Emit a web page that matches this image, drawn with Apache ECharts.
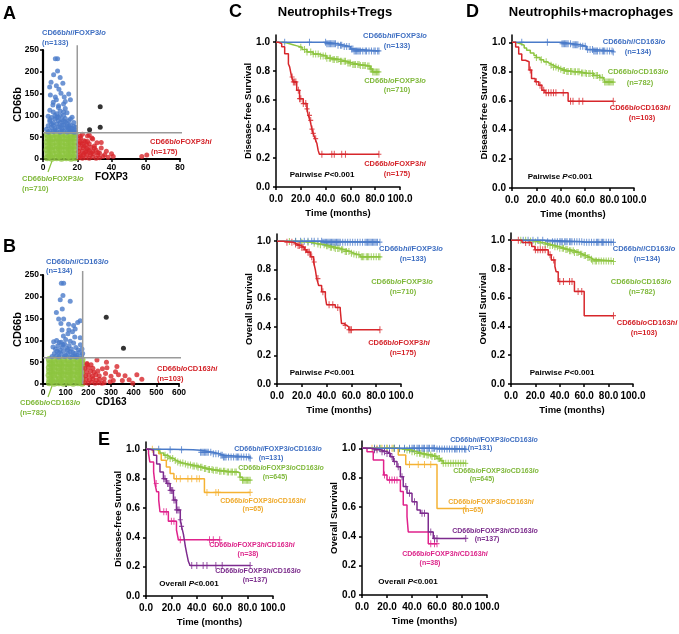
<!DOCTYPE html>
<html>
<head>
<meta charset="utf-8">
<script src="https://cdn.jsdelivr.net/npm/echarts@6/dist/echarts.min.js"></script>
<style>
  html, body { margin: 0; padding: 0; background: #fff; }
  #main { width: 679px; height: 634px; }
</style>
</head>
<body>
<div id="main"></div>
<script>
// ---- data ----
// panel A: CD66b vs FOXP3
const aGreen = [[2.5,3],[5.2,2],[8,3],[10.8,2],[13.6,3],[16.4,2],[18.8,3],
  [2.8,12],[5.5,11],[8.3,12],[11,11],[13.8,12],[16.6,12],[18.6,11],
  [2.4,21],[5.1,20],[7.9,21],[10.7,21],[13.5,20],[16.3,21],[18.9,21],
  [2.7,30],[5.4,29],[8.2,30],[11,30],[13.7,29],[16.5,30],[18.7,30],
  [2.5,39],[5.3,38],[8.1,39],[10.9,39],[13.6,38],[16.4,39],[18.8,39],
  [2.8,48],[5.5,47],[8.3,48],[11.1,48],[13.8,47],[16.6,48],[18.6,48],
  [2.6,56],[5.2,56],[8,57],[10.8,56],[13.6,56],[16.4,57],[18.8,56],
  [4,7],[9.5,7],[15,7],[4,25],[9.5,25],[15,25],[4,43],[9.5,43],[15,43]];
const aBlue = [[7.2,230],[8.5,230],[8.5,202],[6.2,193],[10,187],[4.7,176],[3.9,165],[7.8,168],[11.6,174],
  [9.3,160],[10.5,151],[15,149],[4.3,147],[7.2,142],[12.4,142],[7.8,136],[5.8,124],[9.1,122],[12,126],
  [13,132],[16,136],[4,112],[6,108],[8,104],[10,110],[12,100],[14,106],[3,98],[5,95],[7,92],[9,96],
  [11,90],[13,93],[15,88],[17,96],[4,86],[6,83],[8,80],[10,84],[12,78],[14,82],[16,78],[18,84],[3,76],
  [5,72],[7,70],[9,74],[11,68],[13,71],[15,67],[17,70],[19,66],[4,65],[6,63],[8,64],[10,62],[12,64],
  [14,62],[16,63],[18,62],[2,68],[5,80],[9,88],[11,78],[13,85],[7,100],[15,76],[19,73],[16,92],[13,116],
  [9,118],[6,130],[3,62],[7,66],[11,64],[15,71],[17,64],[19,62],[4,90],[6,77],[10,73],[12,88],[14,74],
  [8,95],[10,100],[12,108],[18,75],[16,70]];
const aRed = [[21,3],[23,2],[25,3],[27,2],[29,4],[31,2],[33,3],[21.5,10],[23.5,9],[25.5,11],[27.5,9],
  [29.5,12],[32,9],[21,17],[23,18],[25,16],[27,19],[29,17],[31,20],[21.5,25],[23.5,26],[25.5,24],[28,27],
  [30,25],[21,33],[23,34],[25.5,32],[27,35],[21.5,41],[24,42],[26,40],[22,48],[21.7,52],[26,53],[28.5,48],
  [24.7,40],[31.5,37],[34,25],[37,17.5],[40,12],[33,14],[35,6],[41,6],[57.7,6],[60.6,9],[30,30],[32,15],
  [36,10],[38,4],[34,38],[29,46],[27,55],[23,57],[22,6],[24,13],[26,21],[28,14],[24,30],[22,37]];
const aBlack = [[27.2,67],[33.4,73],[33.4,120]];
// panel B: CD66b vs CD163
const bGreen = [[28,3],[49,2],[70,3],[91,2],[112,3],[133,2],[154,3],[172,2],
  [30,11],[51,12],[72,11],[93,12],[114,11],[135,12],[156,11],[171,12],
  [27,20],[48,21],[69,20],[90,21],[111,20],[132,21],[153,20],[172,21],
  [29,29],[50,30],[71,29],[92,30],[113,29],[134,30],[155,29],[171,30],
  [28,38],[49,39],[70,38],[91,39],[112,38],[133,39],[154,38],[172,39],
  [30,47],[51,48],[72,47],[93,48],[114,47],[135,48],[156,47],[171,48],
  [28,56],[49,56],[70,57],[91,56],[112,56],[133,57],[154,56],[172,56],
  [40,7],[80,7],[120,7],[160,7],[40,25],[80,25],[120,25],[160,25],[40,43],[80,43],[120,43],[160,43]];
const bBlue = [[81,231],[91,231],[88,203],[76,193],[120,190],[59,164],[85,172],[69,149],[91,149],[79,139],
  [153,141],[164,145],[113,137],[135,134],[84,124],[114,124],[142,126],[47,97],[164,106],[44,85],[172,80],
  [50,70],[60,65],[70,72],[80,68],[90,75],[100,66],[110,70],[120,74],[130,64],[140,70],[150,66],[160,72],
  [170,64],[55,80],[65,88],[75,78],[85,85],[95,92],[105,82],[115,88],[125,80],[135,94],[145,84],[155,78],
  [165,90],[60,100],[80,96],[100,102],[120,98],[140,108],[90,110],[110,115],[130,120],[70,62],[120,62],
  [150,62],[40,63],[175,70],[95,63],[140,63],[62,75],[108,78],[132,72],[88,90],[72,95]];
const bRed = [[185,3],[200,2],[215,4],[230,2],[245,3],[260,2],[190,11],[205,10],[220,12],[235,9],[250,11],
  [188,19],[203,20],[218,18],[233,21],[248,19],[192,28],[210,29],[225,27],[242,30],[185,36],[200,38],
  [220,36],[195,45],[212,44],[238,55],[194,47],[282,37],[326,40],[276,24],[333,21],[362,19],[414,21],
  [436,11],[396,2],[296,5],[270,12],[300,18],[310,8],[350,8],[262,35],[280,50],[320,28],[380,10],[270,3]];
const bBlack = [[279,153],[355,82]];

// KM curves: T = months, S = survival, C = censored times
// C top: Neutrophils+Tregs, disease-free
const cDfsBlueT = [0, 41, 50, 55, 60, 63, 83];
const cDfsBlueS = [1, 0.99, 0.98, 0.97, 0.953, 0.94, 0.94];
const cDfsBlueC = [7, 27, 40, 41, 42, 43, 44, 45, 46, 47, 48, 50, 52, 53, 55, 57, 59, 61, 62, 63, 64, 65, 66, 67, 68, 70, 72, 73, 75, 77, 79, 80, 82, 83];
const cDfsGreenT = [0, 5, 9, 13, 17, 21, 25, 30, 35, 41, 46, 52, 57, 62, 68, 73, 76, 78, 83];
const cDfsGreenS = [1, 0.995, 0.985, 0.975, 0.965, 0.95, 0.933, 0.918, 0.905, 0.89, 0.88, 0.868, 0.857, 0.846, 0.84, 0.835, 0.815, 0.795, 0.795];
const cDfsGreenC = [20, 23, 25, 28, 30, 32, 34, 36, 38, 40, 41, 43, 44, 46, 47, 49, 50, 52, 53, 55, 56, 58, 59, 60, 62, 63, 64, 66, 67, 68, 70, 71, 72, 74, 75, 76, 77, 78, 79, 80, 81, 82, 83];
const cDfsRedT = [0, 2, 4.6, 7, 10, 11, 12.6, 14, 16.7, 19, 22, 25, 26, 27.4, 29, 30, 31.5, 33, 34, 35, 83];
const cDfsRedS = [1, 0.99, 0.968, 0.92, 0.85, 0.83, 0.76, 0.726, 0.668, 0.61, 0.576, 0.54, 0.495, 0.46, 0.40, 0.37, 0.334, 0.30, 0.253, 0.226, 0.226];
const cDfsRedC = [13, 14, 15, 16, 18, 19, 20, 22, 24, 25, 27, 28, 29, 30, 32, 37, 45, 47, 53, 56, 83];
// C bottom: overall
const cOsBlueT = [0, 37, 83];
const cOsBlueS = [1, 0.993, 0.993];
const cOsBlueC = [15, 19, 22, 25, 28, 30, 33, 36, 37, 38, 39, 40, 41, 42, 43, 44, 45, 46, 47, 48, 49, 50, 51, 53, 55, 57, 59, 61, 63, 65, 67, 69, 71, 72, 73, 74, 75, 76, 77, 78, 79, 80, 81, 83];
const cOsGreenT = [0, 10, 20, 27, 31, 35, 39, 43, 47, 51, 55, 59, 62, 64, 67, 83];
const cOsGreenS = [1, 0.998, 0.993, 0.986, 0.98, 0.975, 0.967, 0.958, 0.949, 0.94, 0.928, 0.916, 0.91, 0.905, 0.89, 0.89];
const cOsGreenC = [10, 15, 20, 25, 30, 33, 35, 38, 40, 41, 43, 44, 46, 47, 49, 50, 52, 53, 55, 56, 58, 60, 62, 64, 66, 68, 69, 70, 72, 73, 74, 76, 78, 80, 82, 83];
const cOsRedT = [0, 5, 13, 16, 19, 22, 24, 27, 29.5, 31, 32, 33.6, 36, 39, 40, 47, 51, 52, 54, 56, 58, 83];
const cOsRedS = [1, 0.993, 0.98, 0.97, 0.958, 0.94, 0.923, 0.89, 0.854, 0.796, 0.738, 0.69, 0.645, 0.61, 0.555, 0.536, 0.52, 0.424, 0.41, 0.40, 0.38, 0.38];
const cOsRedC = [8, 12, 15, 17, 18, 20, 21, 23, 25, 26, 28, 30, 33, 37, 42, 45, 49, 55, 58, 59, 60, 83];
// D top: Neutrophils+macrophages, disease-free
const dDfsBlueT = [0, 41, 50, 56, 61, 67, 83];
const dDfsBlueS = [1, 0.99, 0.983, 0.973, 0.95, 0.94, 0.934];
const dDfsBlueC = [8, 29, 41, 42, 43, 44, 45, 46, 48, 50, 51, 52, 53, 54, 56, 58, 60, 62, 64, 66, 67, 68, 69, 70, 72, 74, 75, 76, 78, 80, 82, 83];
const dDfsGreenT = [0, 3, 7, 10, 12, 15, 18, 20, 23, 26, 29, 31, 34, 37, 39.5, 42, 45, 50, 56, 61, 67, 72, 75, 76, 83];
const dDfsGreenS = [1, 0.99, 0.98, 0.96, 0.945, 0.927, 0.91, 0.895, 0.88, 0.866, 0.854, 0.843, 0.83, 0.822, 0.815, 0.807, 0.80, 0.797, 0.79, 0.786, 0.772, 0.758, 0.75, 0.727, 0.727];
const dDfsGreenC = [20, 24, 28, 32, 34, 36, 38, 40, 42, 43, 45, 46, 48, 49, 51, 52, 54, 55, 57, 58, 60, 61, 63, 64, 66, 67, 69, 70, 72, 74, 76, 77, 78, 79, 80, 81, 82, 83];
const dDfsRedT = [0, 3, 5.5, 8, 11, 14, 16, 19, 22, 24.5, 27, 46, 83];
const dDfsRedS = [1, 0.968, 0.92, 0.877, 0.866, 0.81, 0.752, 0.73, 0.706, 0.67, 0.654, 0.595, 0.595];
const dDfsRedC = [15, 20, 23, 26, 28, 30, 32, 34, 36, 42, 48, 50, 55, 58, 83];
// D bottom: overall
const dOsBlueT = [0, 30, 60, 84];
const dOsBlueS = [1, 0.99, 0.985, 0.985];
const dOsBlueC = [10, 14, 18, 22, 26, 30, 34, 36, 38, 40, 41, 42, 44, 45, 46, 48, 49, 50, 52, 54, 56, 58, 60, 62, 64, 66, 68, 70, 71, 72, 74, 75, 76, 78, 80, 82, 84];
const dOsGreenT = [0, 15, 20, 24, 28, 32, 36, 40, 44, 48, 52, 56, 59, 62, 65, 67, 84];
const dOsGreenS = [1, 0.995, 0.988, 0.98, 0.972, 0.963, 0.954, 0.944, 0.935, 0.926, 0.915, 0.903, 0.893, 0.88, 0.868, 0.856, 0.852];
const dOsGreenC = [8, 12, 16, 20, 24, 28, 30, 32, 34, 36, 38, 40, 42, 43, 45, 46, 48, 49, 51, 52, 54, 55, 57, 58, 60, 61, 63, 64, 66, 67, 69, 70, 72, 74, 76, 78, 80, 82, 84];
const dOsRedT = [0, 9, 17, 19.6, 30.5, 33, 36, 37, 38.7, 52, 60, 84];
const dOsRedS = [1, 0.984, 0.956, 0.933, 0.898, 0.863, 0.817, 0.78, 0.713, 0.644, 0.475, 0.475];
const dOsRedC = [6, 12, 15, 20, 22, 24, 26, 28, 32, 35, 40, 43, 48, 50, 55, 58, 84];
// E left: disease-free, 5 groups
const eDfsBlueT = [0, 19, 37, 43, 53, 58, 61, 82];
const eDfsBlueS = [1, 0.997, 0.993, 0.98, 0.97, 0.96, 0.948, 0.94];
const eDfsBlueC = [10, 19, 28, 43, 44, 45, 46, 47, 48, 49, 51, 53, 55, 57, 59, 60, 61, 62, 63, 65, 67, 69, 71, 72, 73, 75, 77, 79, 81, 82];
const eDfsGreenT = [0, 4, 8, 11, 14, 17, 19, 22, 24, 27, 29.5, 33, 37, 41, 45, 49, 53, 58, 64, 71.5, 74, 76, 82];
const eDfsGreenS = [1, 0.998, 0.99, 0.975, 0.96, 0.947, 0.937, 0.924, 0.914, 0.906, 0.9, 0.893, 0.887, 0.878, 0.87, 0.863, 0.857, 0.851, 0.846, 0.84, 0.81, 0.79, 0.79];
const eDfsGreenC = [15, 17, 19, 21, 23, 25, 27, 29, 31, 33, 35, 37, 38, 40, 41, 43, 44, 46, 47, 49, 50, 52, 53, 55, 56, 58, 59, 61, 62, 64, 65, 67, 68, 70, 71, 74, 76, 77, 78, 79, 80, 81, 82];
const eDfsOrangeT = [0, 10, 12, 16, 19, 22, 46, 82];
const eDfsOrangeS = [1, 0.97, 0.925, 0.88, 0.835, 0.80, 0.706, 0.706];
const eDfsOrangeC = [5, 24, 27, 33, 36, 40, 42, 48, 55, 57, 82];
const eDfsPinkT = [0, 2, 3, 6, 7, 8.4, 10, 11, 17.6, 24, 25.5, 58];
const eDfsPinkS = [1, 0.97, 0.914, 0.846, 0.767, 0.71, 0.654, 0.575, 0.51, 0.45, 0.383, 0.383];
const eDfsPinkC = [8, 14, 16, 20, 22, 27, 50, 53, 58];
const eDfsPurpleT = [0, 3, 6, 8.4, 11, 13.7, 16, 19, 21.6, 24, 27, 28, 29.5, 31, 32, 33.4, 34.7, 82];
const eDfsPurpleS = [1, 0.993, 0.96, 0.9, 0.846, 0.80, 0.767, 0.72, 0.654, 0.587, 0.52, 0.475, 0.42, 0.337, 0.292, 0.235, 0.208, 0.208];
const eDfsPurpleC = [14, 15, 17, 18, 19, 20, 21, 22, 23, 24, 25, 26, 27, 28, 36, 40, 45, 48, 55, 60, 82];
// E right: overall, 5 groups
const eOsBlueT = [0, 60, 83];
const eOsBlueS = [1, 0.995, 0.993];
const eOsBlueC = [10, 14, 18, 22, 26, 30, 34, 38, 40, 41, 42, 44, 45, 46, 48, 49, 50, 52, 53, 54, 56, 57, 58, 60, 62, 64, 66, 68, 70, 72, 74, 75, 76, 78, 80, 82, 83];
const eOsGreenT = [0, 28, 32, 36, 40, 44, 48, 52, 56, 60, 63, 65, 83];
const eOsGreenS = [1, 0.997, 0.993, 0.988, 0.977, 0.966, 0.96, 0.955, 0.945, 0.93, 0.915, 0.898, 0.898];
const eOsGreenC = [10, 15, 20, 25, 30, 34, 36, 38, 40, 42, 44, 46, 47, 49, 50, 52, 53, 55, 56, 58, 59, 61, 62, 64, 65, 67, 69, 71, 73, 75, 77, 79, 81, 83];
const eOsOrangeT = [0, 29, 35, 60, 83];
const eOsOrangeS = [1, 0.955, 0.89, 0.59, 0.59];
const eOsOrangeC = [8, 12, 16, 20, 24, 26, 38, 45, 50, 55, 83];
const eOsPinkT = [0, 4, 9, 17.3, 20, 30.7, 33, 36, 37, 53, 60];
const eOsPinkS = [1, 0.977, 0.92, 0.818, 0.784, 0.705, 0.614, 0.534, 0.43, 0.35, 0.35];
const eOsPinkC = [18, 22, 24, 26, 28, 55, 58, 60];
const eOsPurpleT = [0, 6.7, 14.7, 20, 22.7, 25, 28, 30.7, 33, 36, 40, 44, 46.7, 53, 57, 83];
const eOsPurpleS = [1, 0.99, 0.977, 0.965, 0.943, 0.91, 0.875, 0.807, 0.74, 0.693, 0.636, 0.58, 0.557, 0.43, 0.386, 0.386];
const eOsPurpleC = [10, 12, 16, 18, 20, 22, 24, 26, 29, 32, 35, 38, 42, 48, 50, 55, 58, 60, 83];

const kmYTicks = [0, 0.2, 0.4, 0.6, 0.8, 1.0];

// ---- styling ----
const F = '"Liberation Sans", Arial, sans-serif';
const BLUE = '#4a7bc9', GREEN = '#8cc43f', RED = '#d7262b', ORANGE = '#f5b233', PINK = '#e0228c', PURPLE = '#7d2b8e';
const PLUS = 'path://M4,0h2v12h-2zM0,5h10v2h-10z';

function sAt(T, S, t) {
  let v = S[0];
  for (let i = 0; i < T.length; i++) if (T[i] <= t) v = S[i];
  return v;
}

function km(g, T, S, C, color) {
  return [{
    type: 'line', xAxisIndex: g, yAxisIndex: g, step: 'end', symbol: 'none', silent: true,
    data: T.map((t, i) => [t, S[i]]),
    lineStyle: { color: color, width: 1.5 }
  }, {
    type: 'scatter', xAxisIndex: g, yAxisIndex: g, symbol: PLUS, symbolSize: [5, 7], silent: true,
    data: C.map(t => [t, sAt(T, S, t)]),
    itemStyle: { color: color }
  }];
}

function dots(g, data, color, size) {
  return { type: 'scatter', xAxisIndex: g, yAxisIndex: g, data: data, symbolSize: size || 5, silent: true,
    itemStyle: { color: color } };
}

function gray(g, data) {
  return { type: 'line', xAxisIndex: g, yAxisIndex: g, data: data, symbol: 'none', clip: false, silent: true,
    lineStyle: { color: '#9a9a9a', width: 1.5 } };
}

const axLine = { show: true, onZero: false, lineStyle: { color: '#000', width: 1.5 } };
const axTick = { show: true, length: 3, lineStyle: { color: '#000', width: 1.5 } };
const scLine = { show: true, onZero: false, lineStyle: { color: '#000', width: 2.2 } };

function kmX(g) {
  return { gridIndex: g, type: 'value', min: 0, max: 100, interval: 20,
    name: 'Time (months)', nameLocation: 'middle', nameGap: 21, nameMoveOverlap: false,
    nameTextStyle: { fontSize: 9.5, fontWeight: 'bold', color: '#000', fontFamily: F },
    axisLine: axLine, axisTick: axTick, splitLine: { show: false },
    axisLabel: { formatter: v => v.toFixed(1), fontSize: 10, fontWeight: 'bold', color: '#000', margin: 7, fontFamily: F } };
}
function kmY(g, name) {
  return { gridIndex: g, type: 'value', min: 0, max: 1.05,
    name: name, nameLocation: 'middle', nameGap: 23, nameMoveOverlap: false,
    nameTextStyle: { fontSize: 9.5, fontWeight: 'bold', color: '#000', fontFamily: F },
    axisLine: axLine, splitLine: { show: false },
    axisTick: Object.assign({ customValues: kmYTicks }, axTick),
    axisLabel: { customValues: kmYTicks, formatter: v => v.toFixed(1), fontSize: 10, fontWeight: 'bold', color: '#000', margin: 6, fontFamily: F } };
}
function scX(g, max, interval, name) {
  return { gridIndex: g, type: 'value', min: 0, max: max, interval: interval,
    name: name, nameLocation: 'middle', nameGap: 13, nameMoveOverlap: false,
    nameTextStyle: { fontSize: 10, fontWeight: 'bold', color: '#000', fontFamily: F },
    axisLine: scLine, axisTick: axTick, splitLine: { show: false },
    axisLabel: { fontSize: 8.5, fontWeight: 'bold', color: '#000', margin: 4, fontFamily: F } };
}
function scY(g) {
  return { gridIndex: g, type: 'value', min: 0, max: 250, interval: 50,
    name: 'CD66b', nameLocation: 'middle', nameGap: 20, nameMoveOverlap: false,
    nameTextStyle: { fontSize: 11, fontWeight: 'bold', color: '#000', fontFamily: F },
    axisLine: scLine, axisTick: axTick, splitLine: { show: false },
    axisLabel: { fontSize: 8.5, fontWeight: 'bold', color: '#000', margin: 4, fontFamily: F } };
}

// text with *italic* parts
function lbl(x, y, str, color, size, align) {
  const parts = str.split('*');
  let txt = '';
  parts.forEach((p, i) => { if (p) txt += '{' + (i % 2 ? 'i' : 'n') + '|' + p + '}'; });
  return { type: 'text', x: x, y: y, silent: true,
    style: { text: txt, align: align || 'center', verticalAlign: 'middle',
      textAlign: align || 'center', textVerticalAlign: 'middle',
      rich: {
        n: { fontSize: size, fontWeight: 'bold', fill: color, fontFamily: F },
        i: { fontSize: size, fontWeight: 'bold', fontStyle: 'italic', fill: color, fontFamily: F }
      } } };
}
function letter(x, y, t) {
  return { type: 'text', x: x, y: y, silent: true,
    style: { text: t, font: 'bold 18px ' + F, fill: '#000', align: 'left', verticalAlign: 'middle',
      textAlign: 'left', textVerticalAlign: 'middle' } };
}

const LB = '#3f6fc2', LG = '#7fb83a', LR = '#d42329', LO = '#efaa2c', LP = '#dc2389', LU = '#7a2a8b';

const graphics = [
  letter(3, 14, 'A'), letter(3, 247, 'B'), letter(229, 12, 'C'), letter(466, 12, 'D'), letter(98, 440, 'E'),
  { type: 'text', x: 335, y: 12, style: { text: 'Neutrophils+Tregs', font: 'bold 13px ' + F, fill: '#000', align: 'center', verticalAlign: 'middle', textAlign: 'center', textVerticalAlign: 'middle' } },
  { type: 'text', x: 591, y: 12, style: { text: 'Neutrophils+macrophages', font: 'bold 13px ' + F, fill: '#000', align: 'center', verticalAlign: 'middle', textAlign: 'center', textVerticalAlign: 'middle' } },
  // A
  lbl(42, 33, 'CD66b*hi*/FOXP3*lo*', LB, 7.5, 'left'), lbl(42, 43, '(n=133)', LB, 7.5, 'left'),
  lbl(150, 142, 'CD66b*lo*FOXP3*hi*', LR, 7.5, 'left'), lbl(151, 152, '(n=175)', LR, 7.5, 'left'),
  lbl(22, 179, 'CD66b*lo*FOXP3*lo*', LG, 7.5, 'left'), lbl(22, 189, '(n=710)', LG, 7.5, 'left'),
  { type: 'line', silent: true, shape: { x1: 52, y1: 161, x2: 48, y2: 172 }, style: { stroke: GREEN, lineWidth: 1.2 } },
  // B
  lbl(46, 262, 'CD66b*hi*/CD163*lo*', LB, 7.5, 'left'), lbl(46, 271, '(n=134)', LB, 7.5, 'left'),
  lbl(157, 369, 'CD66b*lo*CD163*hi*', LR, 7.5, 'left'), lbl(157, 379, '(n=103)', LR, 7.5, 'left'),
  lbl(20, 403, 'CD66b*lo*CD163*lo*', LG, 7.5, 'left'), lbl(20, 413, '(n=782)', LG, 7.5, 'left'),
  { type: 'line', silent: true, shape: { x1: 52, y1: 386, x2: 48, y2: 397 }, style: { stroke: GREEN, lineWidth: 1.2 } },
  // C top
  lbl(395, 36, 'CD66b*hi*/FOXP3*lo*', LB, 7.5), lbl(397, 46, '(n=133)', LB, 7.5),
  lbl(395, 81, 'CD66b*lo*FOXP3*lo*', LG, 7.5), lbl(397, 90, '(n=710)', LG, 7.5),
  lbl(395, 164, 'CD66b*lo*FOXP3*hi*', LR, 7.5), lbl(397, 174, '(n=175)', LR, 7.5),
  lbl(322, 175, 'Pairwise *P*<0.001', '#000', 8),
  // C bottom
  lbl(411, 249, 'CD66b*hi*/FOXP3*lo*', LB, 7.5), lbl(413, 259, '(n=133)', LB, 7.5),
  lbl(402, 282, 'CD66b*lo*FOXP3*lo*', LG, 7.5), lbl(403, 292, '(n=710)', LG, 7.5),
  lbl(399, 343, 'CD66b*lo*FOXP3*hi*', LR, 7.5), lbl(403, 353, '(n=175)', LR, 7.5),
  lbl(322, 373, 'Pairwise *P*<0.001', '#000', 8),
  // D top
  lbl(634, 42, 'CD66b*hi*/CD163*lo*', LB, 7.5), lbl(638, 52, '(n=134)', LB, 7.5),
  lbl(638, 72, 'CD66b*lo*CD163*lo*', LG, 7.5), lbl(640, 83, '(n=782)', LG, 7.5),
  lbl(640, 108, 'CD66b*lo*CD163*hi*', LR, 7.5), lbl(642, 118, '(n=103)', LR, 7.5),
  lbl(560, 177, 'Pairwise *P*<0.001', '#000', 8),
  // D bottom
  lbl(644, 249, 'CD66b*hi*/CD163*lo*', LB, 7.5), lbl(647, 259, '(n=134)', LB, 7.5),
  lbl(641, 282, 'CD66b*lo*CD163*lo*', LG, 7.5), lbl(642, 292, '(n=782)', LG, 7.5),
  lbl(647, 323, 'CD66b*lo*CD163*hi*', LR, 7.5), lbl(644, 333, '(n=103)', LR, 7.5),
  lbl(562, 373, 'Pairwise *P*<0.001', '#000', 8),
  // E left
  lbl(278, 449, 'CD66b*hi*/FOXP3*lo*CD163*lo*', LB, 7), lbl(271, 458, '(n=131)', LB, 7),
  lbl(281, 468, 'CD66b*lo*FOXP3*lo*CD163*lo*', LG, 7), lbl(275, 477, '(n=645)', LG, 7),
  lbl(263, 501, 'CD66b*lo*FOXP3*lo*CD163*hi*', LO, 7), lbl(253, 509, '(n=65)', LO, 7),
  lbl(252, 545, 'CD66b*lo*FOXP3*hi*CD163*hi*', LP, 7), lbl(248, 554, '(n=38)', LP, 7),
  lbl(258, 571, 'CD66b*lo*FOXP3*hi*CD163*lo*', LU, 7), lbl(255, 580, '(n=137)', LU, 7),
  lbl(189, 584, 'Overall *P*<0.001', '#000', 8),
  // E right
  lbl(494, 440, 'CD66b*hi*/FOXP3*lo*CD163*lo*', LB, 7), lbl(480, 448, '(n=131)', LB, 7),
  lbl(496, 471, 'CD66b*lo*FOXP3*lo*CD163*lo*', LG, 7), lbl(482, 479, '(n=645)', LG, 7),
  lbl(491, 502, 'CD66b*lo*FOXP3*lo*CD163*hi*', LO, 7), lbl(473, 510, '(n=65)', LO, 7),
  lbl(495, 531, 'CD66b*lo*FOXP3*hi*CD163*lo*', LU, 7), lbl(487, 539, '(n=137)', LU, 7),
  lbl(445, 554, 'CD66b*lo*FOXP3*hi*CD163*hi*', LP, 7), lbl(430, 563, '(n=38)', LP, 7),
  lbl(408, 582, 'Overall *P*<0.001', '#000', 8)
];

const chart = echarts.init(document.getElementById('main'), null, { renderer: 'canvas' });
chart.setOption({
  animation: false,
  backgroundColor: '#fff',
  grid: [
    { left: 43, top: 50, width: 137, height: 109 },
    { left: 43, top: 275, width: 136, height: 109 },
    { left: 276, top: 35, width: 124, height: 152 },
    { left: 277, top: 234, width: 124, height: 150 },
    { left: 512, top: 35, width: 122, height: 153 },
    { left: 511, top: 233, width: 122, height: 151 },
    { left: 146, top: 442, width: 127, height: 154 },
    { left: 362, top: 441, width: 125, height: 154 }
  ].map(g => Object.assign({ outerBoundsMode: 'none', containLabel: false }, g)),
  xAxis: [scX(0, 80, 20, 'FOXP3'), scX(1, 600, 100, 'CD163'), kmX(2), kmX(3), kmX(4), kmX(5), kmX(6), kmX(7)],
  yAxis: [scY(0), scY(1), kmY(2, 'Disease-free Survival'), kmY(3, 'Overall Survival'),
    kmY(4, 'Disease-free Survival'), kmY(5, 'Overall Survival'),
    kmY(6, 'Disease-free Survival'), kmY(7, 'Overall Survival')],
  graphic: { elements: graphics },
  series: [
    gray(0, [[0, 60], [92, 60]]), gray(0, [[20, 0], [20, 261]]),
    dots(0, aGreen, GREEN, 7), dots(0, aBlue, BLUE), dots(0, aRed, RED), dots(0, aBlack, '#000'),
    gray(1, [[0, 60], [648, 60]]), gray(1, [[175, 0], [175, 259]]),
    dots(1, bGreen, GREEN, 7), dots(1, bBlue, BLUE), dots(1, bRed, RED), dots(1, bBlack, '#000'),
    ...km(2, cDfsGreenT, cDfsGreenS, cDfsGreenC, GREEN),
    ...km(2, cDfsBlueT, cDfsBlueS, cDfsBlueC, BLUE),
    ...km(2, cDfsRedT, cDfsRedS, cDfsRedC, RED),
    ...km(3, cOsGreenT, cOsGreenS, cOsGreenC, GREEN),
    ...km(3, cOsBlueT, cOsBlueS, cOsBlueC, BLUE),
    ...km(3, cOsRedT, cOsRedS, cOsRedC, RED),
    ...km(4, dDfsGreenT, dDfsGreenS, dDfsGreenC, GREEN),
    ...km(4, dDfsBlueT, dDfsBlueS, dDfsBlueC, BLUE),
    ...km(4, dDfsRedT, dDfsRedS, dDfsRedC, RED),
    ...km(5, dOsGreenT, dOsGreenS, dOsGreenC, GREEN),
    ...km(5, dOsBlueT, dOsBlueS, dOsBlueC, BLUE),
    ...km(5, dOsRedT, dOsRedS, dOsRedC, RED),
    ...km(6, eDfsOrangeT, eDfsOrangeS, eDfsOrangeC, ORANGE),
    ...km(6, eDfsGreenT, eDfsGreenS, eDfsGreenC, GREEN),
    ...km(6, eDfsBlueT, eDfsBlueS, eDfsBlueC, BLUE),
    ...km(6, eDfsPinkT, eDfsPinkS, eDfsPinkC, PINK),
    ...km(6, eDfsPurpleT, eDfsPurpleS, eDfsPurpleC, PURPLE),
    ...km(7, eOsOrangeT, eOsOrangeS, eOsOrangeC, ORANGE),
    ...km(7, eOsGreenT, eOsGreenS, eOsGreenC, GREEN),
    ...km(7, eOsBlueT, eOsBlueS, eOsBlueC, BLUE),
    ...km(7, eOsPinkT, eOsPinkS, eOsPinkC, PINK),
    ...km(7, eOsPurpleT, eOsPurpleS, eOsPurpleC, PURPLE)
  ]
});
</script>
</body>
</html>
